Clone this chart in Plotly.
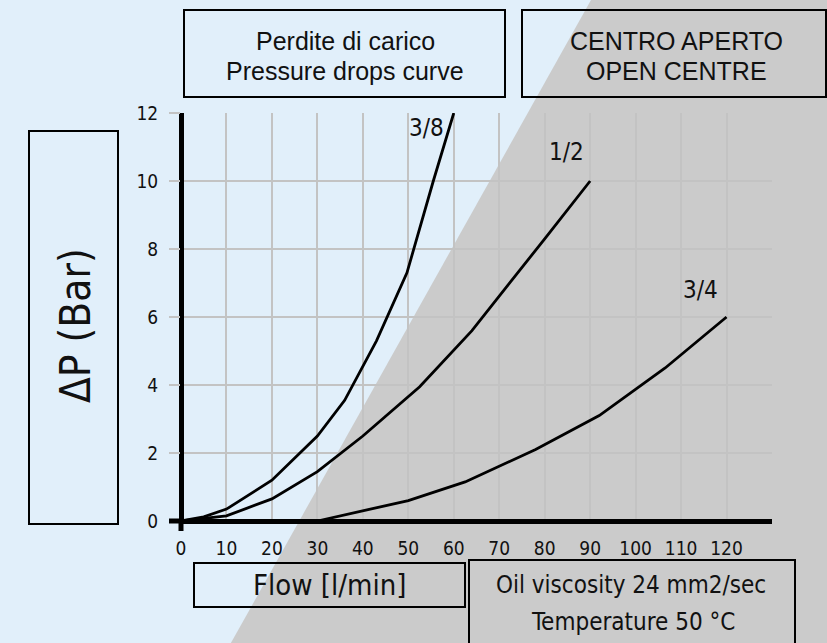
import plotly.graph_objects as go

# ---- data ----
flow_38 = [0, 5, 10, 20, 30, 36, 43, 49.7, 55.5, 60]
dp_38 = [0, 0.12, 0.35, 1.2, 2.5, 3.55, 5.3, 7.3, 10, 12]

flow_12 = [0, 10, 20, 30, 40, 52.5, 64, 70, 80, 90]
dp_12 = [0, 0.15, 0.65, 1.45, 2.5, 3.95, 5.6, 6.6, 8.3, 10]

flow_34 = [0, 15, 30, 40, 50, 62.5, 78, 92, 106.5, 120]
dp_34 = [0, -0.1, 0, 0.3, 0.6, 1.15, 2.1, 3.1, 4.5, 6]

curve_names = ["3/8", "1/2", "3/4"]
x_ticks = [0, 10, 20, 30, 40, 50, 60, 70, 80, 90, 100, 110, 120]
y_ticks = [0, 2, 4, 6, 8, 10, 12]

# ---- layout geometry (pixels) ----
W, H = 827, 643
PL, PR, PT, PB = 181, 772, 113, 521


def fx(px):
    return (px - PL) / (PR - PL)


def fy(py):
    return (PB - py) / (PB - PT)


BG = "#e1effa"
GRAY = "#cbcbcb"
GRID = "#c3c3c3"
INK = "#111111"
NARROW = "DejaVu Sans Condensed, DejaVu Sans, sans-serif"
ARIAL = "Liberation Sans, Arial, sans-serif"

fig = go.Figure()
for xs, ys in [(flow_38, dp_38), (flow_12, dp_12), (flow_34, dp_34)]:
    fig.add_trace(go.Scatter(x=xs, y=ys, mode="lines",
                             line=dict(color="black", width=2.8),
                             showlegend=False, hoverinfo="skip"))

shapes = []
# gray diagonal panel
poly = [(593.8, -5), (845, -5), (845, 650), (227, 650)]
path = "M " + " L ".join(f"{fx(x):.5f},{fy(y):.5f}" for x, y in poly) + " Z"
shapes.append(dict(type="path", path=path, xref="paper", yref="paper",
                   fillcolor=GRAY, line=dict(width=0), layer="below"))


def box(x0, y0, x1, y1):
    shapes.append(dict(type="rect", xref="paper", yref="paper",
                       x0=fx(x0), x1=fx(x1), y0=fy(y1), y1=fy(y0),
                       line=dict(color="black", width=2), fillcolor="rgba(0,0,0,0)",
                       layer="above"))


box(184, 10, 505, 97)
box(522, 10, 826, 97)
box(29, 131, 118, 524)
box(194, 563, 465, 607)
box(469, 560, 795, 660)

# axis stubs beyond the plot area
shapes.append(dict(type="line", xref="paper", yref="paper",
                   x0=fx(169), x1=fx(181), y0=fy(521), y1=fy(521),
                   line=dict(color="black", width=5)))
shapes.append(dict(type="line", xref="paper", yref="paper",
                   x0=fx(181), x1=fx(181), y0=fy(521), y1=fy(531),
                   line=dict(color="black", width=5)))

fig.update_layout(shapes=shapes)


def txt(s, x, y, size, family, angle=0):
    fig.add_annotation(text=s, xref="paper", yref="paper", x=fx(x), y=fy(y),
                       xanchor="center", yanchor="middle", showarrow=False,
                       textangle=angle, font=dict(family=family, size=size, color=INK))


txt("Perdite di carico", 345, 41, 25, ARIAL)
txt("Pressure drops curve", 345, 71, 25, ARIAL)
txt("CENTRO APERTO", 676, 41, 25, ARIAL)
txt("OPEN CENTRE", 676, 71, 25, ARIAL)
txt("ΔP (Bar)", 75, 326, 42, NARROW, angle=-90)
txt("Flow [l/min]", 329, 585, 29, NARROW)
txt("Oil viscosity 24 mm2/sec", 631, 585, 24, NARROW)
txt("Temperature 50 °C", 633, 622, 24, NARROW)

# curve labels
label_pos = [(53.9, 11.55), (84.7, 10.85), (114.2, 6.8)]
for name, (lx, ly) in zip(curve_names, label_pos):
    fig.add_annotation(text=name, x=lx, y=ly, xref="x", yref="y", showarrow=False,
                       xanchor="center", yanchor="middle",
                       font=dict(family=NARROW, size=24, color=INK))

fig.update_xaxes(range=[0, 130], tickvals=x_ticks, ticktext=[str(v) for v in x_ticks],
                 showgrid=True, gridcolor=GRID, gridwidth=2,
                 zeroline=True, zerolinecolor="black", zerolinewidth=5,
                 showline=False, ticks="", ticklabelstandoff=14,
                 tickfont=dict(family=NARROW, size=19, color=INK), fixedrange=True)
fig.update_yaxes(range=[0, 12], tickvals=y_ticks, ticktext=[str(v) for v in y_ticks],
                 showgrid=True, gridcolor=GRID, gridwidth=2,
                 zeroline=True, zerolinecolor="black", zerolinewidth=5,
                 showline=False, ticks="outside", ticklen=11, tickwidth=2, tickcolor=GRID,
                 ticklabelstandoff=7,
                 tickfont=dict(family=NARROW, size=19, color=INK), fixedrange=True)

fig.update_layout(width=W, height=H, autosize=False,
                  margin=dict(l=PL, r=W - PR, t=PT, b=H - PB, pad=0),
                  paper_bgcolor=BG, plot_bgcolor="rgba(0,0,0,0)",
                  showlegend=False)

fig.write_html("out.html",
               config={"displayModeBar": False},
               post_script="document.body.style.margin='0';"
                           "document.body.style.background='" + BG + "';")
